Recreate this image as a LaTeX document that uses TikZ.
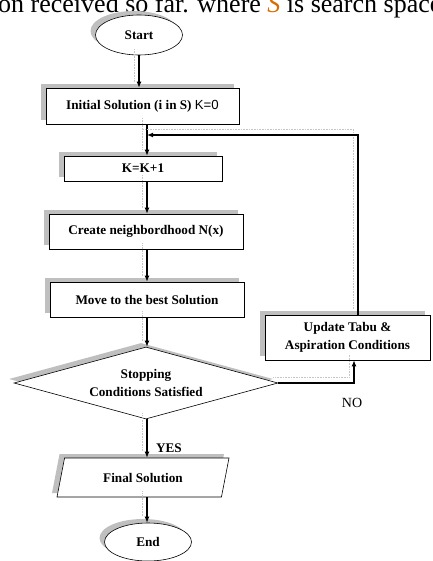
\documentclass[tikz,border=0pt]{standalone}
\usepackage{fontspec}
\setmainfont{Liberation Serif}
\newfontfamily\arialfont{Liberation Sans}
\usepackage{xcolor}
\usepackage{tikz}
\usetikzlibrary{shapes.geometric,shadows,arrows.meta}
\newcommand{\boxfont}{\fontsize{13.2}{18}\selectfont\bfseries}
\tikzset{x=1pt, y=-1pt}
\tikzset{shadowed/.style={fill=white, drop shadow={shadow xshift=-5pt, shadow yshift=4pt, fill=gray!50, opacity=1}}}
\tikzset{procbox/.style={draw, shadowed, line width=0.6pt, font=\boxfont, align=center, inner sep=0pt}}
\tikzset{termbox/.style={procbox, ellipse, minimum width=87pt, minimum height=40pt}}
\tikzset{decbox/.style={procbox, diamond, aspect=3.667, minimum width=264pt, minimum height=72pt}}
\tikzset{iobox/.style={procbox, trapezium, trapezium left angle=51, trapezium right angle=129, trapezium stretches body, minimum width=172pt, minimum height=39pt}}
\tikzset{flow/.style={line width=1.4pt, -{Latex[length=6pt,width=5pt]}, preaction={draw=gray!45, densely dotted, line width=0.6pt, -, transform canvas={shift={(-5pt,6pt)}}}}}

\begin{document}
\begin{tikzpicture}

\useasboundingbox (0,0) rectangle (432,561);

\node[anchor=base west, inner sep=0pt, font=\fontsize{26}{30}\selectfont] (header) at (-2,13) {on received so far. where {\color{orange!85!black}\textit{S}} is search space};

\node[termbox] (start) at (139,35) {Start};
\node[procbox, minimum width=193pt, minimum height=36pt] (init) at (142.5,106) {Initial Solution (i in S) {\arialfont\mdseries K=0}};
\node[procbox, minimum width=158pt, minimum height=25pt] (inc) at (143,168.5) {K=K+1};
\node[procbox, minimum width=194pt, minimum height=35pt] (nbhd) at (146,231.5) {Create neighbordhood N(x)};
\node[procbox, minimum width=194pt, minimum height=35pt] (move) at (147,299.5) {Move to the best Solution};
\node[decbox] (stop) at (146,383) {Stopping\\Conditions Satisfied};
\node[procbox, minimum width=165pt, minimum height=45pt] (update) at (347.5,337.5) {Update Tabu \&\\Aspiration Conditions};
\node[iobox] (final) at (143,477.5) {Final Solution};
\node[termbox, minimum height=38pt] (end) at (148,542) {End};

\node[font=\fontsize{14}{16}\selectfont] (no) at (352,403) {NO};
\node[font=\boxfont] (yes) at (169,448) {YES};

\coordinate (axis) at (147,0);
\coordinate (loopcorner) at (358,135);
\coordinate (join) at (147,135);
\coordinate (nocorner) at (354,383);

\draw[flow] (start.south) -- (start |- init.north);
\draw[flow] (init.south -| axis) -- (inc.north -| axis);
\draw[flow] (inc.south -| axis) -- (nbhd.north -| axis);
\draw[flow] (nbhd.south -| axis) -- (move.north -| axis);
\draw[flow] (move.south -| axis) -- (stop.north -| axis);
\draw[flow] (stop.south -| axis) -- (final.north -| axis);
\draw[flow] (final.south -| axis) -- (end.north -| axis);

\draw[flow] (update.north -| loopcorner) -- (loopcorner) -- (join);
\draw[flow] (stop.east) -- (nocorner) -- (nocorner |- update.south);
\end{tikzpicture}
\end{document}
